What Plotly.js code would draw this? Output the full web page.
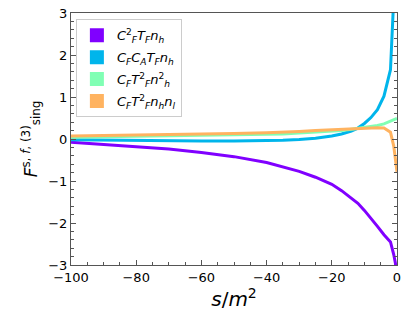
<!DOCTYPE html>
<html><head><meta charset="utf-8">
<script src="https://cdn.plot.ly/plotly-3.0.1.min.js"></script>
<style>html,body{margin:0;padding:0;background:#fff}#c{width:410px;height:319px}</style>
</head><body><div id="c"></div>
<script>
// s/m^2 grid
const s = [-100,-90,-80,-70,-60,-50,-40,-35,-30,-25,-20,-17,-14,-12,-10,-8,-6,-4,-2,-1,-0.5,0];
// C_F^2 T_F n_h
const cf2tfnh = [-0.08,-0.13,-0.18,-0.24,-0.32,-0.42,-0.56,-0.66,-0.77,-0.91,-1.08,-1.23,-1.40,-1.53,-1.70,-1.88,-2.08,-2.28,-2.45,-2.75,-2.95,-3.3];
// C_F C_A T_F n_h
const cfcatfnh = [-0.02,-0.03,-0.04,-0.05,-0.05,-0.05,-0.04,-0.03,-0.01,0.02,0.07,0.12,0.19,0.26,0.37,0.51,0.70,1.02,1.65,2.9,4.2,6.0];
// C_F T_F^2 n_h^2
const cftf2nh2 = [0.04,0.05,0.06,0.07,0.08,0.09,0.11,0.12,0.14,0.16,0.18,0.20,0.23,0.25,0.27,0.29,0.32,0.36,0.42,0.45,0.47,0.49];
// C_F T_F^2 n_h n_l
const cftf2nhnl = [0.07,0.08,0.09,0.10,0.11,0.13,0.15,0.16,0.18,0.20,0.22,0.23,0.25,0.26,0.27,0.27,0.27,0.26,0.16,-0.17,-0.45,-0.78];

const names = [
  '<i>C</i><sup>2</sup><sub><i>F</i></sub><i>T</i><sub><i>F</i></sub><i>n</i><sub><i>h</i></sub>',
  '<i>C</i><sub><i>F</i></sub><i>C</i><sub><i>A</i></sub><i>T</i><sub><i>F</i></sub><i>n</i><sub><i>h</i></sub>',
  '<i>C</i><sub><i>F</i></sub><i>T</i><sup>2</sup><sub><i>F</i></sub><i>n</i><sup>2</sup><sub><i>h</i></sub>',
  '<i>C</i><sub><i>F</i></sub><i>T</i><sup>2</sup><sub><i>F</i></sub><i>n</i><sub><i>h</i></sub><i>n</i><sub><i>l</i></sub>'
];
const colors = ['#8000ff','#00b5eb','#80ffb4','#ffb360'];
const series = [cf2tfnh, cfcatfnh, cftf2nh2, cftf2nhnl];

const traces = [];
series.forEach((ys,i)=>{
  traces.push({x:s, y:ys, mode:'lines', line:{color:colors[i], width:3}, showlegend:false, hoverinfo:'skip'});
});
series.forEach((ys,i)=>{
  traces.push({x:[null], y:[null], mode:'markers', name:names[i], legendgroup:'g'+i,
    marker:{symbol:'square', size:14, color:colors[i]}, showlegend:true});
});

const axisCommon = {
  showgrid:false, zeroline:false, showline:true, linecolor:'#555', linewidth:1,
  ticks:'inside', ticklen:5, tickcolor:'#555', tickwidth:1,
  tickfont:{family:'DejaVu Sans', size:13, color:'#000'}
};

const layout = {
  width:410, height:319,
  margin:{l:71, r:13, t:13, b:54},
  paper_bgcolor:'#fff', plot_bgcolor:'#fff',
  xaxis: Object.assign({}, axisCommon, {
    range:[-100,0], tickvals:[-100,-80,-60,-40,-20,0],
    ticktext:['\u2212100','\u221280','\u221260','\u221240','\u221220','0'],
    mirror:true,
    minor:{dtick:5, ticks:'inside', ticklen:3, tickcolor:'#555'},
    title:{text:'<i>s</i>/<i>m</i><sup>2</sup>', font:{family:'DejaVu Sans', size:20, color:'#000'}, standoff:4}
  }),
  yaxis: Object.assign({}, axisCommon, {
    range:[-3,3], tickvals:[-3,-2,-1,0,1,2,3],
    ticktext:['\u22123','\u22122','\u22121','0','1','2','3'],
    mirror:'ticks',
    minor:{dtick:0.2, ticks:'inside', ticklen:3, tickcolor:'#555'},
    title:{text:'<i>F</i><sup>s, <i>f</i>, (3)</sup><sub>sing</sub>', font:{family:'DejaVu Sans', size:17, color:'#000'}, standoff:6}
  }),
  legend:{x:0.015, y:0.975, xanchor:'left', yanchor:'top', bgcolor:'#fff',
    bordercolor:'#ccc', borderwidth:1, font:{family:'DejaVu Sans', size:13, color:'#000'},
    tracegroupgap:2, itemwidth:30}
};
Plotly.newPlot('c', traces, layout, {staticPlot:true});
</script></body></html>
